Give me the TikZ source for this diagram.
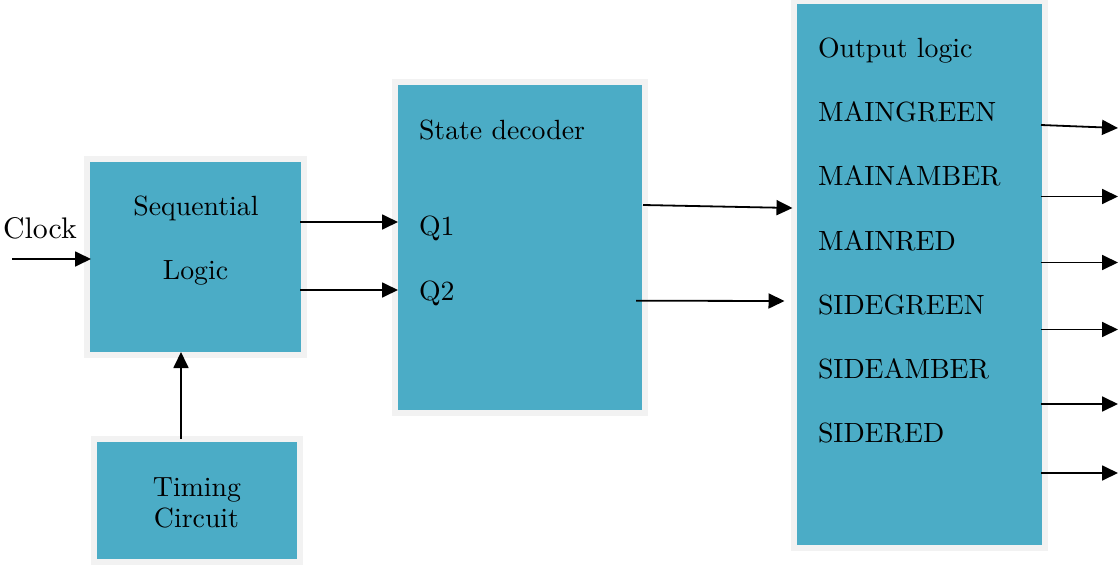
\documentclass[tikz,border=0pt]{standalone}
\usetikzlibrary{arrows.meta,calc}
\definecolor{boxteal}{HTML}{4BACC6}
\definecolor{boxrim}{HTML}{F2F2F2}
\newcommand{\bigtxt}[1]{\scalebox{2.78}{#1}}
\begin{document}
\begin{tikzpicture}[x=1pt,y=-1pt,
  blockbox/.style={rectangle, fill=boxteal, draw=boxrim, line width=6pt, inner sep=0pt, outer sep=0pt},
  lbl/.style={inner sep=0pt, outer sep=0pt, anchor=base west},
  clbl/.style={inner sep=0pt, outer sep=0pt, anchor=base},
  arr/.style={line width=1.8pt, -{Triangle[length=16pt,width=15pt]}}]
\useasboundingbox (0,0) rectangle (1119,565);
% boxes
\node[blockbox, minimum width=217pt, minimum height=196pt] (seq) at (195.5,257) {};
\node[blockbox, minimum width=206.5pt, minimum height=123pt] (tim) at (196.75,500.5) {};
\node[blockbox, minimum width=249.5pt, minimum height=331pt] (dec) at (519.75,247.5) {};
\node[blockbox, minimum width=251pt, minimum height=547pt] (out) at (919,274.5) {};
% texts
\node[clbl] (clock) at (40,238) {\scalebox{2.98}{Clock}};
\node[clbl] (seqa) at (196,215) {\bigtxt{Sequential}};
\node[clbl] (seqb) at (195.5,279) {\bigtxt{Logic}};
\node[clbl] (tima) at (197,496) {\bigtxt{Timing}};
\node[clbl] (timb) at (196.5,527) {\bigtxt{Circuit}};
\node[lbl] (deca) at (419,139) {\bigtxt{State decoder}};
\node[lbl] (q1) at (419,235) {\bigtxt{Q1}};
\node[lbl] (q2) at (419,300) {\bigtxt{Q2}};
\node[lbl] (outa) at (818,57) {\bigtxt{Output logic}};
\node[lbl] (o1) at (818,121) {\bigtxt{MAINGREEN}};
\node[lbl] (o2) at (818,185) {\bigtxt{MAINAMBER}};
\node[lbl] (o3) at (818,250) {\bigtxt{MAINRED}};
\node[lbl] (o4) at (818,314) {\bigtxt{SIDEGREEN}};
\node[lbl] (o5) at (818,378) {\bigtxt{SIDEAMBER}};
\node[lbl] (o6) at (818,442) {\bigtxt{SIDERED}};
% free ends
\coordinate (clk) at (12,259);
\coordinate (e1) at (1118,128);
\coordinate (e2) at (1118,196.5);
\coordinate (e3) at (1118,262.5);
\coordinate (e4) at (1118,329.5);
\coordinate (e5) at (1118,404);
\coordinate (e6) at (1118,473);
% connectors
\draw[arr] (clk) -- ($(seq.west)+(4,2)$);
\draw[arr] ($(seq.east)+(-4,-35)$) -- ($(dec.west)+(3,-25.5)$);
\draw[arr] ($(seq.east)+(-4,33)$) -- ($(dec.west)+(3,42.5)$);
\draw[arr] ($(tim.north)+(-15.75,0)$) -- ($(seq.south)+(-14.5,-3)$);
\draw[arr] ($(dec.east)+(-1.5,-42.5)$) -- ($(out.west)+(-1,-66.5)$);
\draw[arr] ($(dec.east)+(-8.5,53.2)$) -- ($(out.west)+(-9,26.5)$);
\draw[arr] ($(out.east)+(-3.5,-149.5)$) -- (e1);
\draw[arr] ($(out.east)+(-3.5,-78)$) -- (e2);
\draw[arr] ($(out.east)+(-3.5,-12)$) -- (e3);
\draw[arr] ($(out.east)+(-3.5,55)$) -- (e4);
\draw[arr] ($(out.east)+(-3.5,129.5)$) -- (e5);
\draw[arr] ($(out.east)+(-3.5,198.5)$) -- (e6);
\end{tikzpicture}
\end{document}
